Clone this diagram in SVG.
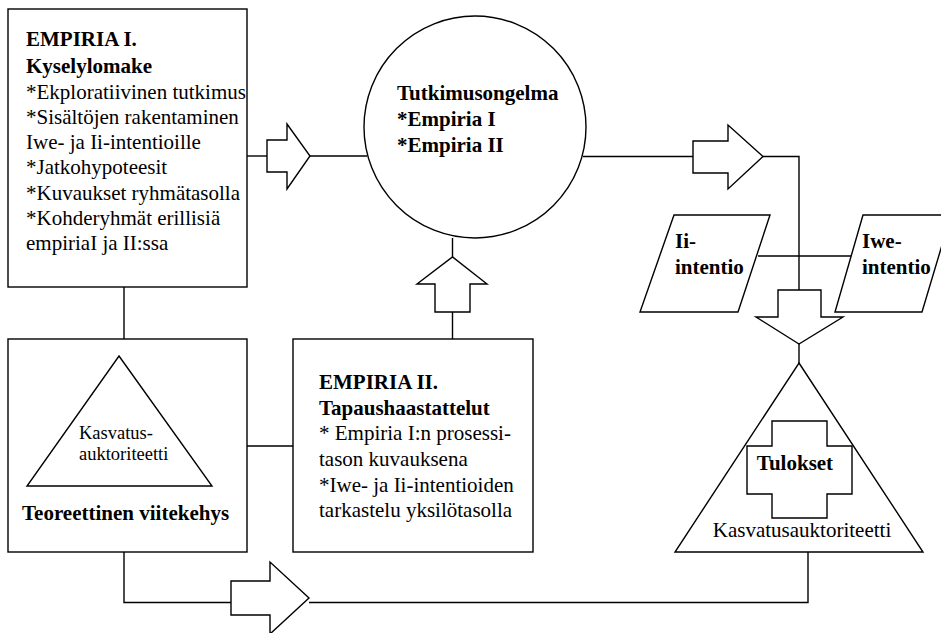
<svg xmlns="http://www.w3.org/2000/svg" width="941" height="633" viewBox="0 0 941 633">
  <style>
    .shape { fill: #fff; stroke: #000; stroke-width: 1.4; }
    .link { fill: none; stroke: #000; stroke-width: 1.4; }
    text { font-family: "Liberation Serif", "Times New Roman", serif; fill: #000; }
    .t { font-size: 21px; }
    .b { font-size: 21px; font-weight: bold; }
    .s { font-size: 18.5px; }
  </style>
  <rect width="941" height="633" fill="#fff"/>

  <!-- connectors and block arrows -->
  <g id="connectors">
    <!-- Empiria I -> research problem -->
    <polyline class="link" points="247,156 267,156"/>
    <polygon class="shape" points="267,140 287,140 287,124 310,156 287,189 287,172 267,172"/>
    <line class="link" x1="310" y1="156" x2="367" y2="156"/>
    <!-- Empiria I -> theoretical frame -->
    <line class="link" x1="124" y1="287" x2="124" y2="339"/>
    <!-- theoretical frame -> Empiria II -->
    <line class="link" x1="247" y1="446" x2="293" y2="446"/>
    <!-- Empiria II -> research problem -->
    <line class="link" x1="452.5" y1="339" x2="452.5" y2="312"/>
    <polygon class="shape" points="435,312 470,312 470,284 487,284 452.5,257 417,284 435,284"/>
    <line class="link" x1="452.5" y1="257" x2="452.5" y2="238"/>
    <!-- research problem -> intentions -> results -->
    <line class="link" x1="583" y1="156.5" x2="693" y2="156.5"/>
    <polygon class="shape" points="693,141 728,141 728,125 763,156.5 728,189 728,173 693,173"/>
    <polyline class="link" points="763,156.5 799,156.5 799,290"/>
    <line class="link" x1="758" y1="256" x2="852" y2="256"/>
    <polygon class="shape" points="778,290 821,290 821,317 843,317 799,344 756,317 778,317"/>
    <line class="link" x1="799" y1="344" x2="799" y2="363"/>
    <!-- theoretical frame -> results (bottom route) -->
    <polyline class="link" points="124,552 124,602.5 231,602.5"/>
    <polygon class="shape" points="231,581 270,581 270,562 309,598 270,634 270,615 231,615"/>
    <polyline class="link" points="309,602.5 808,602.5 808,552"/>
  </g>

  <!-- Empiria I -->
  <g id="empiria1">
    <rect class="shape" x="8" y="9" width="239" height="278"/>
    <text class="b" x="26" y="46">EMPIRIA I.</text>
    <text class="b" x="26" y="73">Kyselylomake</text>
    <text class="t" x="26" y="99">*Ekploratiivinen tutkimus</text>
    <text class="t" x="26" y="123.5">*Sisältöjen rakentaminen</text>
    <text class="t" x="26" y="148.5">Iwe- ja Ii-intentioille</text>
    <text class="t" x="26" y="174">*Jatkohypoteesit</text>
    <text class="t" x="26" y="199.5">*Kuvaukset ryhmätasolla</text>
    <text class="t" x="26" y="225">*Kohderyhmät erillisiä</text>
    <text class="t" x="26" y="250">empiriaI ja II:ssa</text>
  </g>

  <!-- Research problem -->
  <g id="tutkimusongelma">
    <circle class="shape" cx="475" cy="127" r="111"/>
    <text class="b" x="397" y="100">Tutkimusongelma</text>
    <text class="b" x="397" y="126">*Empiria I</text>
    <text class="b" x="397" y="151.5">*Empiria II</text>
  </g>

  <!-- Theoretical frame -->
  <g id="viitekehys">
    <rect class="shape" x="8" y="339" width="239" height="213"/>
    <polygon class="shape" points="119,356 212,486 27,486"/>
    <text class="s" x="79" y="439">Kasvatus-</text>
    <text class="s" x="79" y="460">auktoriteetti</text>
    <text class="b" x="22" y="520">Teoreettinen viitekehys</text>
  </g>

  <!-- Empiria II -->
  <g id="empiria2">
    <rect class="shape" x="293" y="339" width="240" height="213"/>
    <text class="b" x="319" y="388.5">EMPIRIA II.</text>
    <text class="b" x="319" y="414.5">Tapaushaastattelut</text>
    <text class="t" x="319" y="439.5">* Empiria I:n prosessi-</text>
    <text class="t" x="319" y="465.5">tason kuvauksena</text>
    <text class="t" x="319" y="491.5">*Iwe- ja Ii-intentioiden</text>
    <text class="t" x="319" y="517">tarkastelu yksilötasolla</text>
  </g>

  <!-- Ii intention -->
  <g id="ii-intentio">
    <polygon class="shape" points="674,215 770,215 738,312 640,312"/>
    <text class="b" x="675" y="248">Ii-</text>
    <text class="b" x="675" y="274">intentio</text>
  </g>

  <!-- Iwe intention -->
  <g id="iwe-intentio">
    <polygon class="shape" points="863,215 951,215 922,312 835,312"/>
    <text class="b" x="862" y="248">Iwe-</text>
    <text class="b" x="862" y="274">intentio</text>
  </g>

  <!-- Results -->
  <g id="tulokset">
    <polygon class="shape" points="799,363 923,552 675,552"/>
    <polygon class="shape" points="772,421 827,421 827,446 852,446 852,494 827,494 827,518 772,518 772,494 747,494 747,446 772,446"/>
    <text class="b" x="795" y="470" text-anchor="middle">Tulokset</text>
    <text class="t" x="802" y="537" text-anchor="middle">Kasvatusauktoriteetti</text>
  </g>
</svg>
